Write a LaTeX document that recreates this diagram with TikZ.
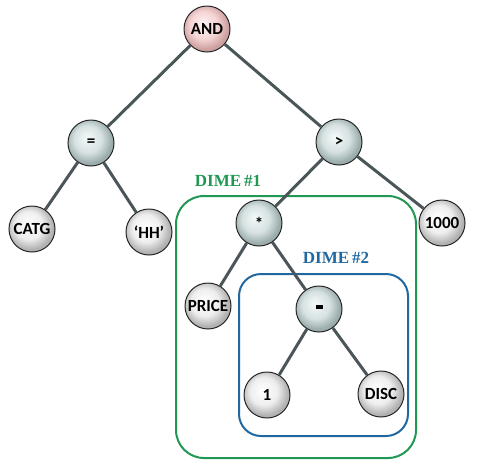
\documentclass[tikz,border=0pt]{standalone}
\usepackage{fontspec}
\newfontfamily\nodefont{Carlito}
\newfontfamily\dimefont{Liberation Serif}
\definecolor{edgegray}{RGB}{74,86,88}
\definecolor{dimegreen}{RGB}{32,152,84}
\definecolor{dimeblue}{RGB}{34,104,160}
\definecolor{leafin}{RGB}{255,255,255}
\definecolor{leafmid}{RGB}{238,238,238}
\definecolor{leafout}{RGB}{178,178,178}
\definecolor{opin}{RGB}{244,249,249}
\definecolor{opmid}{RGB}{214,225,225}
\definecolor{opout}{RGB}{155,172,172}
\definecolor{rootin}{RGB}{255,244,244}
\definecolor{rootmid}{RGB}{245,212,212}
\definecolor{rootout}{RGB}{205,160,160}
\pgfdeclareradialshading{leafball}{\pgfpoint{-5bp}{6bp}}{color(0bp)=(leafin); color(15bp)=(leafmid); color(25bp)=(leafout); color(50bp)=(leafout)}
\pgfdeclareradialshading{opball}{\pgfpoint{-5bp}{6bp}}{color(0bp)=(opin); color(15bp)=(opmid); color(25bp)=(opout); color(50bp)=(opout)}
\pgfdeclareradialshading{rootball}{\pgfpoint{-5bp}{6bp}}{color(0bp)=(rootin); color(15bp)=(rootmid); color(25bp)=(rootout); color(50bp)=(rootout)}
\begin{document}
\begin{tikzpicture}[x=1pt,y=-1pt,
                    ball/.style = {shape=circle, draw=black!85, line width=1pt,
                                   minimum size=46pt, inner sep=0pt,
                                   font=\nodefont\bfseries\fontsize{17}{20}\selectfont},
                    leaf/.style = {ball, shading=leafball},
                    op/.style = {ball, shading=opball},
                    root/.style = {ball, shading=rootball},
                    edge/.style = {draw=edgegray, line width=3pt},
                    dimelabel/.style = {font=\dimefont\bfseries\fontsize{17}{20}\selectfont}]
  \useasboundingbox (0,0) rectangle (479,464);

  \draw[dimegreen, line width=2pt, rounded corners=28pt] (176,196) rectangle (416,458);
  \draw[dimeblue, line width=2pt, rounded corners=22pt] (239,274) rectangle (408,436);
  \node[dimelabel, text=dimegreen] (dime1) at (228,181) {DIME\,\#1};
  \node[dimelabel, text=dimeblue] (dime2) at (336,258) {DIME\,\#2};

  \node[root] (and) at (207,29) {AND};
  \node[op] (eq) at (91,143) {=};
  \node[op] (gt) at (339,142) {>};
  \node[leaf] (catg) at (32,229) {CATG};
  \node[leaf] (hh) at (149,232) {‘HH’};
  \node[op] (times) at (259,223) {*};
  \node[leaf] (thousand) at (442,223) {1000};
  \node[leaf] (price) at (208,306) {PRICE};
  \node[op] (minus) at (319,309) {\rule[4pt]{7pt}{3.5pt}};
  \node[leaf] (one) at (267,395) {1};
  \node[leaf] (disc) at (381,394) {DISC};

  \path[edge] (and) -- (eq) (and) -- (gt)
              (eq) -- (catg) (eq) -- (hh)
              (gt) -- (times) (gt) -- (thousand)
              (times) -- (price) (times) -- (minus)
              (minus) -- (one) (minus) -- (disc);
\end{tikzpicture}
\end{document}
